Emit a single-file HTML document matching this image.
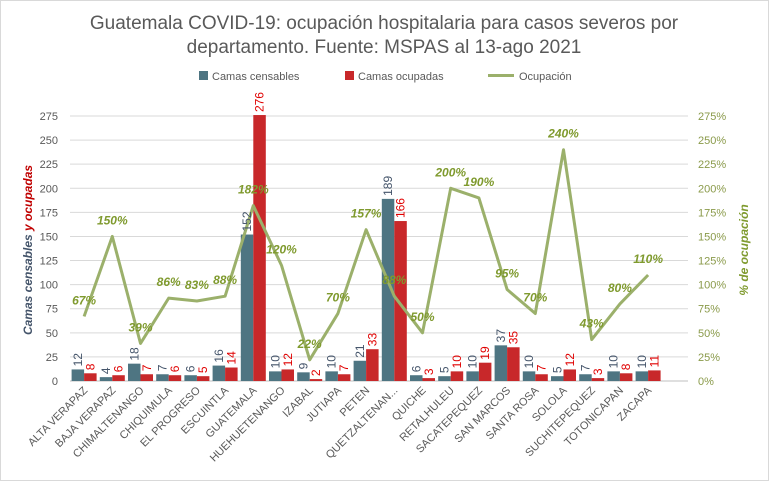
<!DOCTYPE html>
<html><head><meta charset="utf-8"><style>
body{margin:0;background:#fff;}
svg{display:block;font-family:"Liberation Sans",sans-serif;}
</style></head><body>
<svg id="chart" width="769" height="481" viewBox="0 0 769 481">
<rect x="0.5" y="0.5" width="768" height="480" fill="#fff" stroke="#d9d9d9"/>
<text x="384" y="29" text-anchor="middle" font-size="19" fill="#595959">Guatemala COVID-19: ocupación hospitalaria para casos severos por</text>
<text x="384" y="53" text-anchor="middle" font-size="19" fill="#595959">departamento. Fuente: MSPAS al 13-ago 2021</text>
<g>
<rect x="199" y="71" width="9" height="9" fill="#4e7582"/>
<text x="212" y="80" font-size="11" fill="#595959">Camas censables</text>
<rect x="345" y="71" width="9" height="9" fill="#c8282a"/>
<text x="358" y="80" font-size="11" fill="#595959">Camas ocupadas</text>
<line x1="488" y1="75.5" x2="514" y2="75.5" stroke="#9bb06b" stroke-width="3"/>
<text x="519" y="80" font-size="11" fill="#595959">Ocupación</text>
</g>
<text transform="translate(32,250) rotate(-90)" text-anchor="middle" font-size="12" font-weight="bold" font-style="italic"><tspan fill="#44546a">Camas censables </tspan><tspan fill="#c00000">y ocupadas</tspan></text>
<text transform="translate(748,250) rotate(-90)" text-anchor="middle" font-size="12" font-weight="bold" font-style="italic" fill="#7f9a2e">% de ocupación</text>
<g id="grid"></g><g id="bars"></g><g id="line"></g><g id="labels"></g><g id="axes"></g>
</svg>
<script>
const categories=["ALTA VERAPAZ","BAJA VERAPAZ","CHIMALTENANGO","CHIQUIMULA","EL PROGRESO","ESCUINTLA","GUATEMALA","HUEHUETENANGO","IZABAL","JUTIAPA","PETEN","QUETZALTENAN...","QUICHE","RETALHULEU","SACATEPEQUEZ","SAN MARCOS","SANTA ROSA","SOLOLA","SUCHITEPEQUEZ","TOTONICAPAN","ZACAPA"];
const censables=[12,4,18,7,6,16,152,10,9,10,21,189,6,5,10,37,10,5,7,10,10];
const ocupadas=[8,6,7,6,5,14,276,12,2,7,33,166,3,10,19,35,7,12,3,8,11];
const ocupacion=[67,150,39,86,83,88,182,120,22,70,157,88,50,200,190,95,70,240,43,80,110];
const leftTicks=[0,25,50,75,100,125,150,175,200,225,250,275];
const rightTicks=[0,25,50,75,100,125,150,175,200,225,250,275];

const NS="http://www.w3.org/2000/svg";
const X0=70,XEND=688,CW=28.2,Y0=381,YTOP=116;
const yL=v=>Y0-(v/275)*(Y0-YTOP);
const yR=v=>Y0-(v/275)*(Y0-YTOP);
const xc=i=>X0+CW*(i+0.5);
function mk(tag,attrs,parent,txt){const e=document.createElementNS(NS,tag);for(const k in attrs)e.setAttribute(k,attrs[k]);if(txt!==undefined)e.textContent=txt;document.getElementById(parent).appendChild(e);return e;}

leftTicks.forEach(t=>{
 const g=mk('line',{x1:X0,x2:XEND,y1:yL(t),y2:yL(t),stroke:t===0?'#bfbfbf':'#d9d9d9','stroke-width':1},'grid');
 
 
 const l=mk('text',{x:58,y:yL(t)+4,'text-anchor':'end','font-size':11,fill:'#595959'},'axes',t);
 
 
});
rightTicks.forEach(t=>{
 const l=mk('text',{x:698,y:yR(t)+4,'font-size':11,fill:'#8a9a4a'},'axes',t+'%');
 
 
});
const bw=12.5;
categories.forEach((c,i)=>{
 const x=xc(i);
 const b1=mk('rect',{x:x-bw,y:yL(censables[i]),width:bw,height:Y0-yL(censables[i]),fill:'#4e7582'},'bars');
 
 
 const b2=mk('rect',{x:x,y:yL(ocupadas[i]),width:bw,height:Y0-yL(ocupadas[i]),fill:'#c8282a'},'bars');
 
 
 const t1=mk('text',{transform:`translate(${x-bw/2+4},${yL(censables[i])-3}) rotate(-90)`,'font-size':12,fill:'#44546a'},'labels',censables[i]);
 
 
 const t2=mk('text',{transform:`translate(${x+bw/2+4},${yL(ocupadas[i])-3}) rotate(-90)`,'font-size':12,fill:'#e00000'},'labels',ocupadas[i]);
 
 
 const xl=mk('text',{transform:`translate(${x+4},${391}) rotate(-45)`,'text-anchor':'end','font-size':11,fill:'#595959'},'axes',c);
 
 
});
const pts=ocupacion.map((v,i)=>xc(i)+','+yR(v)).join(' ');
const pl=mk('polyline',{points:pts,fill:'none',stroke:'#9bb06b','stroke-width':3,'stroke-linejoin':'round'},'line');


ocupacion.forEach((v,i)=>{
 const t=mk('text',{x:xc(i),y:yR(v)-12,'text-anchor':'middle','font-size':12,'font-weight':'bold','font-style':'italic',fill:'#7f9a2e'},'labels',v+'%');
 
 
});
</script>
</body></html>
